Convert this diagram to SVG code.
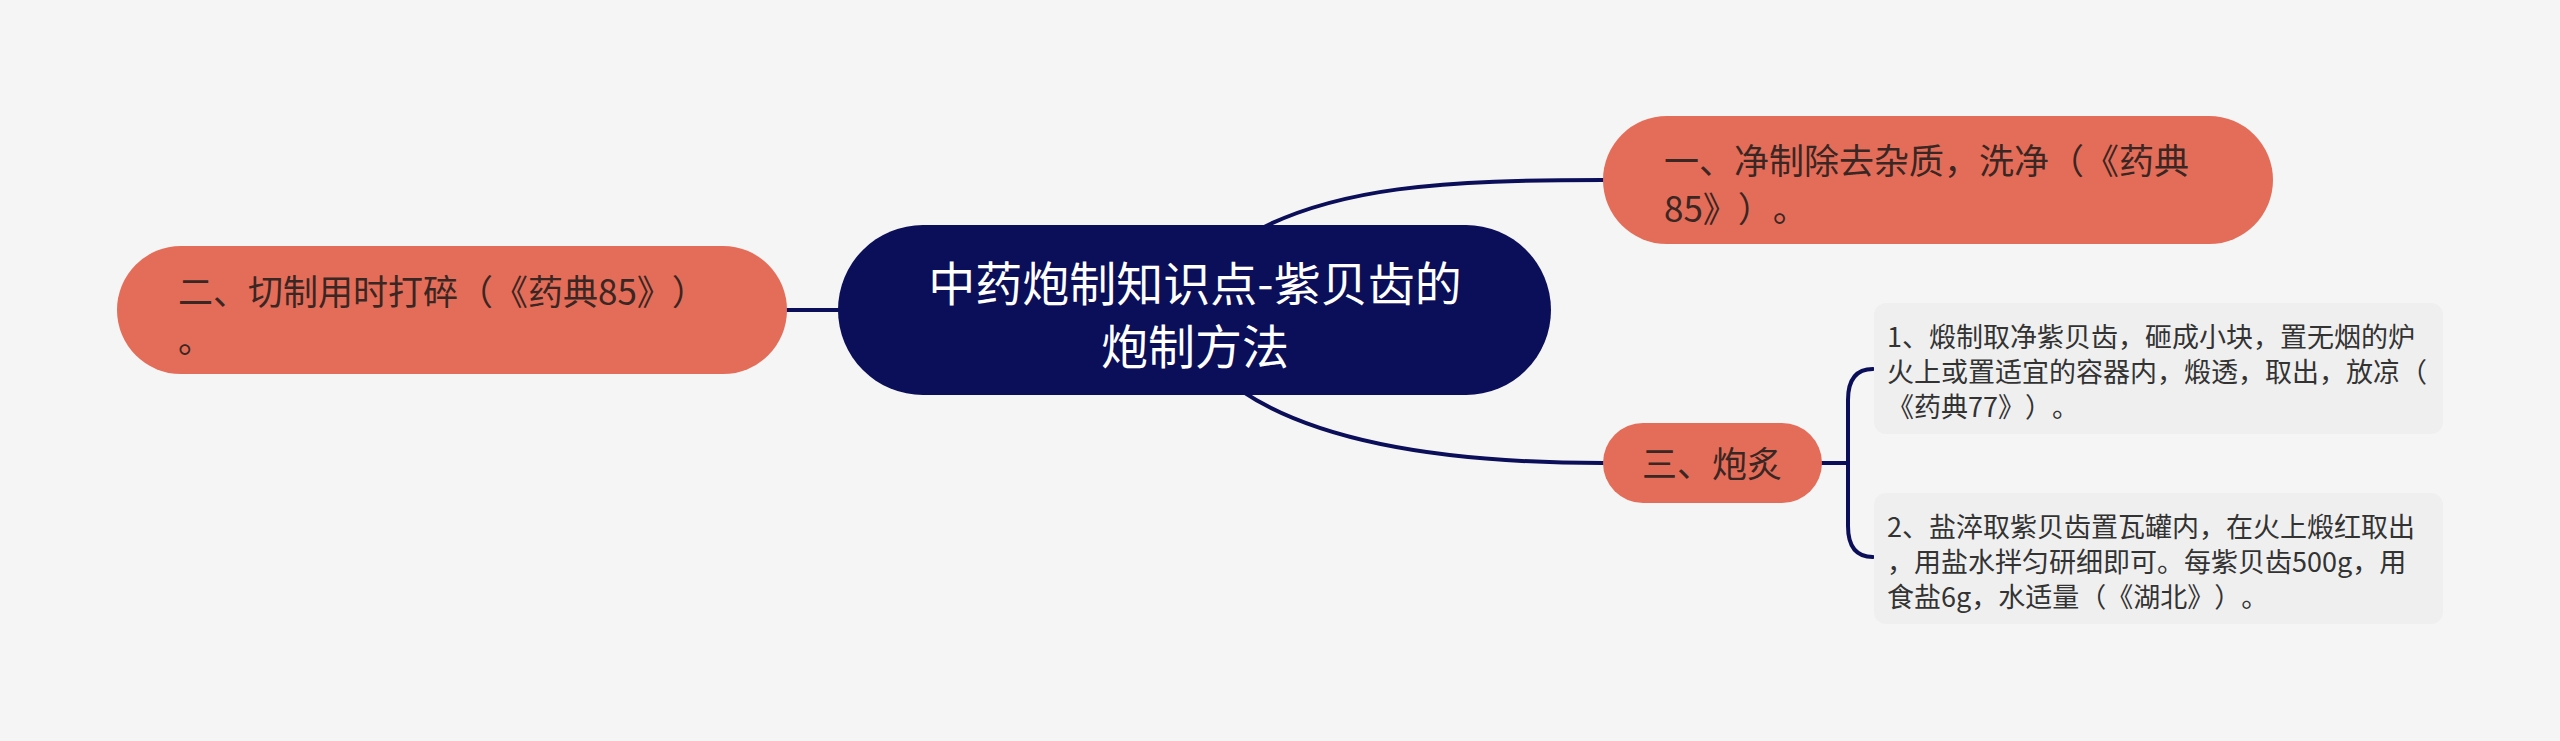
<svg xmlns="http://www.w3.org/2000/svg" width="2560" height="741" viewBox="0 0 2560 741">
<style>
.bg{fill:#f5f5f5}
.root{fill:#0b0e58}
.main{fill:#e46d59}
.leaf{fill:#efefef}
.link{fill:none;stroke:#0b0e58;stroke-width:4;stroke-linecap:round}
.t{font-family:"Noto Sans CJK SC","Noto Sans",sans-serif;text-spacing-trim:space-all;font-kerning:none}
.tr{fill:#ffffff;font-size:47px}
.tm{fill:#3a2622;font-size:35px}
.tl{fill:#333333;font-size:27px}
</style>
<rect class="bg" x="0" y="0" width="2560" height="741"/>
<g id="connectors">
<path class="link" d="M1240,240 C1330,185 1450,180 1603,180"/>
<path class="link" d="M1215,370 C1290,440 1440,463 1603,463"/>
<path class="link" d="M787,310 L838,310"/>
<path class="link" d="M1822,463 L1848,463"/>
<path class="link" d="M1873,369 C1856,369 1848,380 1848,400 L1848,526 C1848,546 1856,557 1873,557"/>
</g>
<g id="root">
<rect class="root" x="838" y="225" width="713" height="170" rx="85"/>
<text class="t tr" text-anchor="middle"><tspan x="1195" y="301">中药炮制知识点-紫贝齿的</tspan><tspan x="1195" y="364">炮制方法</tspan></text>
</g>
<g id="node-left">
<rect class="main" x="117" y="246" width="670" height="128" rx="64"/>
<text class="t tm"><tspan x="178" y="305">二、切制用时打碎（《药典85》）</tspan><tspan x="178" y="353">。</tspan></text>
</g>
<g id="node-top">
<rect class="main" x="1603" y="116" width="670" height="128" rx="64"/>
<text class="t tm"><tspan x="1664" y="174">一、净制除去杂质，洗净（《药典</tspan><tspan x="1664" y="222">85》）。</tspan></text>
</g>
<g id="node-pao">
<rect class="main" x="1603" y="423" width="219" height="80" rx="40"/>
<text class="t tm" x="1642" y="477">三、炮炙</text>
</g>
<g id="leaf-1">
<rect class="leaf" x="1874" y="303" width="569" height="131" rx="12"/>
<text class="t tl"><tspan x="1887" y="347">1、煅制取净紫贝齿，砸成小块，置无烟的炉</tspan><tspan x="1887" y="382">火上或置适宜的容器内，煅透，取出，放凉（</tspan><tspan x="1887" y="417">《药典77》）。</tspan></text>
</g>
<g id="leaf-2">
<rect class="leaf" x="1874" y="493" width="569" height="131" rx="12"/>
<text class="t tl"><tspan x="1887" y="537">2、盐淬取紫贝齿置瓦罐内，在火上煅红取出</tspan><tspan x="1887" y="572">，用盐水拌匀研细即可。每紫贝齿500g，用</tspan><tspan x="1887" y="607">食盐6g，水适量（《湖北》）。</tspan></text>
</g>
</svg>
